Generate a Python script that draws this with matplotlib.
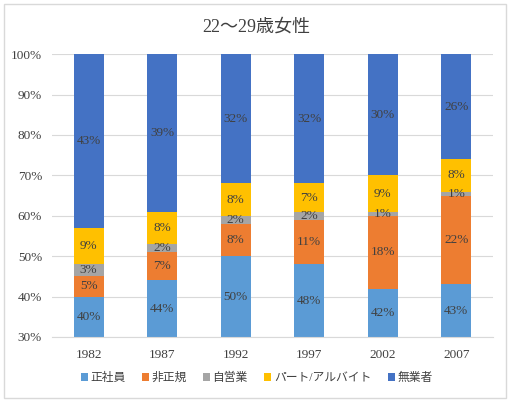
import matplotlib
matplotlib.use('Agg')
import matplotlib.pyplot as plt
from matplotlib.patches import Rectangle
import numpy as np

plt.rcParams['font.family'] = ['Liberation Serif', 'Noto Sans CJK JP', 'DejaVu Sans']

# データ
years = ['1982', '1987', '1992', '1997', '2002', '2007']
seishain = [40, 44, 50, 48, 42, 43]
hiseiki = [5, 7, 8, 11, 18, 22]
jieigyo = [3, 2, 2, 2, 1, 1]
part = [9, 8, 8, 7, 9, 8]
mugyo = [43, 39, 32, 32, 30, 26]
labels = ['正社員', '非正規', '自営業', 'パート/アルバイト', '無業者']
colors = ['#5B9BD5', '#ED7D31', '#A5A5A5', '#FFC000', '#4472C4']

series = [seishain, hiseiki, jieigyo, part, mugyo]
txt = '#404040'
ymin = 30

fig = plt.figure(figsize=(5.13, 4.07), dpi=100)
ax = fig.add_axes([0.101, 0.172, 0.86, 0.695])

x = np.arange(len(years))
bottom = np.zeros(len(years))
for vals, lab, col in zip(series, labels, colors):
    v = np.array(vals, dtype=float)
    ax.bar(x, v, 0.41, bottom=bottom, color=col, label=lab, zorder=2)
    for xi, b, h in zip(x, bottom, v):
        # 見えている部分の中央にラベル
        ax.text(xi, (max(b, ymin) + b + h) / 2, f'{int(h)}%', ha='center',
                va='center', fontsize=9.5, color=txt, zorder=3)
    bottom += v

ax.set_ylim(ymin, 100)
ax.set_xlim(-0.5, len(years) - 0.5)
ax.set_yticks(range(30, 101, 10))
ax.set_yticklabels([f'{t}%' for t in range(30, 101, 10)])
ax.set_xticks(x)
ax.set_xticklabels(years)
ax.yaxis.grid(True, color='#D9D9D9', linewidth=0.8, zorder=0)
for s in ['top', 'right', 'left']:
    ax.spines[s].set_visible(False)
ax.spines['bottom'].set_color('#D9D9D9')
ax.tick_params(axis='both', length=0, labelsize=9.5, colors=txt)
ax.tick_params(axis='x', pad=9)
ax.tick_params(axis='y', pad=7)

fig.text(0.5, 0.933, '22～29歳女性', ha='center', va='center', fontsize=13, color=txt)

fig.legend(loc='center', bbox_to_anchor=(0.5, 0.071), ncol=5, frameon=False,
           fontsize=8.5, handlelength=0.6, handleheight=0.6, handletextpad=0.2,
           columnspacing=1.4, labelcolor=txt)

fig.patches.append(Rectangle((4 / 513, 9 / 407), 502 / 513, 394 / 407,
                             transform=fig.transFigure, fill=False,
                             edgecolor='#D9D9D9', linewidth=1))

fig.savefig('out.png', dpi=100)
